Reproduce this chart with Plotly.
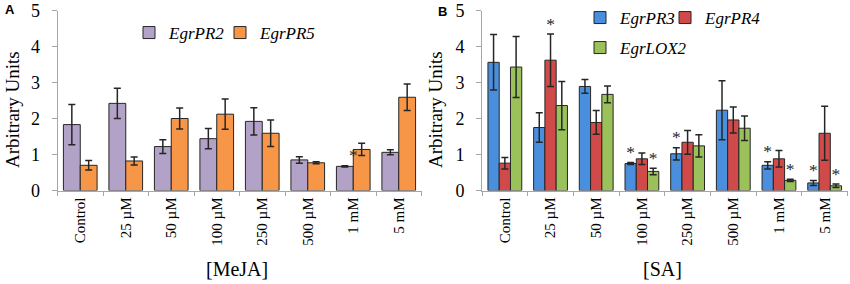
import plotly.graph_objects as go

categories = ["Control", "25 µM", "50 µM", "100 µM", "250 µM", "500 µM", "1 mM", "5 mM"]

# Panel A (MeJA)
pr2 = [1.83, 2.42, 1.22, 1.44, 1.92, 0.85, 0.67, 1.06]
pr2_err = [0.56, 0.42, 0.19, 0.28, 0.38, 0.09, 0.02, 0.07]
pr2_star = [0, 0, 0, 0, 0, 0, 1, 0]
pr5 = [0.70, 0.82, 2.00, 2.12, 1.59, 0.77, 1.14, 2.59]
pr5_err = [0.13, 0.11, 0.29, 0.42, 0.37, 0.03, 0.17, 0.37]
pr5_star = [0, 0, 0, 0, 0, 0, 0, 0]

# Panel B (SA)
pr3 = [3.56, 1.75, 2.89, 0.75, 1.02, 2.23, 0.70, 0.21]
pr3_err = [0.77, 0.41, 0.19, 0.03, 0.17, 0.82, 0.10, 0.07]
pr3_star = [0, 0, 0, 1, 1, 0, 1, 1]
pr4 = [0.76, 3.62, 1.89, 0.88, 1.34, 1.96, 0.88, 1.59]
pr4_err = [0.16, 0.73, 0.33, 0.16, 0.33, 0.36, 0.23, 0.75]
pr4_star = [0, 1, 0, 0, 0, 0, 0, 0]
lox2 = [3.43, 2.36, 2.67, 0.53, 1.24, 1.73, 0.28, 0.13]
lox2_err = [0.85, 0.67, 0.23, 0.09, 0.31, 0.34, 0.03, 0.05]
lox2_star = [0, 0, 0, 1, 0, 0, 1, 1]

yticks = [0, 1, 2, 3, 4, 5]

SERIF = "Liberation Serif"
AXC = "#A6A6A6"
W, H = 850, 284

fig = go.Figure()


def add_series(name, vals, errs, stars, color, xa, ya, legend):
    fig.add_trace(go.Bar(
        x=categories, y=vals, name=name, xaxis=xa, yaxis=ya, legend=legend,
        marker=dict(color=color, line=dict(color="#262626", width=1)),
        error_y=dict(type="data", array=errs, visible=True, color="#262626",
                     thickness=1.5, width=3.5),
    ))
    fig.add_trace(go.Scatter(
        x=categories,
        y=[(v + e) if s else None for v, e, s in zip(vals, errs, stars)],
        xaxis=xa, yaxis=ya,
        mode="text", text=["<sup>*</sup>" if s else None for s in stars],
        textposition="middle center", showlegend=False, hoverinfo="skip",
        textfont=dict(family=SERIF, size=25, color="#262626"),
    ))


add_series("EgrPR2", pr2, pr2_err, pr2_star, "#B3A2C7", "x", "y", "legend")
add_series("EgrPR5", pr5, pr5_err, pr5_star, "#F79646", "x", "y", "legend2")
add_series("EgrPR3", pr3, pr3_err, pr3_star, "#4A8FDD", "x2", "y2", "legend3")
add_series("EgrPR4", pr4, pr4_err, pr4_star, "#D04A4A", "x2", "y2", "legend4")
add_series("EgrLOX2", lox2, lox2_err, lox2_star, "#9BC25A", "x2", "y2", "legend5")

xax = dict(type="category", showline=True, linecolor=AXC, linewidth=1,
           ticks="outside", tickson="boundaries", ticklen=4, tickcolor=AXC,
           tickangle=-90, tickfont=dict(family=SERIF, size=15, color="#000"),
           showgrid=False, zeroline=False, automargin=False)
yax = dict(range=[0, 5], tickvals=yticks, showline=True, linecolor=AXC, linewidth=1,
           ticks="outside", ticklen=5, tickcolor=AXC, ticklabelstandoff=8,
           tickfont=dict(family=SERIF, size=18, color="#000"),
           showgrid=False, zeroline=False,
           domain=[1 - 190.5 / H, 1 - 10.5 / H], automargin=False)

leg_font = dict(family=SERIF, size=17, color="#000", style="italic")


def leg(px, py):
    return dict(orientation="h", x=px / W, y=1 - py / H, xanchor="left", yanchor="middle",
                font=leg_font, bgcolor="rgba(0,0,0,0)", borderwidth=0)


def note(text, px, py, size, family=SERIF, angle=0):
    return dict(text=text, x=px / W, y=1 - py / H, xref="paper", yref="paper",
                xanchor="center", yanchor="middle", textangle=angle, showarrow=False,
                font=dict(family=family, size=size, color="#000"))


fig.update_layout(
    template="none",
    width=W, height=H,
    margin=dict(l=0, r=0, t=0, b=0, autoexpand=False),
    paper_bgcolor="white", plot_bgcolor="white",
    font=dict(family=SERIF),
    barmode="group", bargap=0.26, bargroupgap=0,
    scattermode="group", scattergap=0.26,
    xaxis=dict(xax, domain=[57.5 / W, 421.5 / W], anchor="y"),
    yaxis=dict(yax, anchor="x"),
    xaxis2=dict(xax, domain=[482 / W, 847.5 / W], anchor="y2"),
    yaxis2=dict(yax, anchor="x2"),
    showlegend=True,
    legend=leg(129, 33),
    legend2=leg(220, 33),
    legend3=leg(580, 18),
    legend4=leg(665, 18),
    legend5=leg(580, 48),
    annotations=[
        note("<b>A</b>", 10, 10, 13, family="Liberation Sans"),
        note("<b>B</b>", 442, 12, 13, family="Liberation Sans"),
        note("Arbitrary Units", 13, 110, 19, angle=-90),
        note("Arbitrary Units", 436, 110, 19, angle=-90),
        note("[MeJA]", 237, 269, 20),
        note("[SA]", 662, 269, 20),
    ],
)

fig.write_html("out.html", config={"displayModeBar": False},
               post_script="document.body.style.margin='0';document.body.style.overflow='hidden';")
